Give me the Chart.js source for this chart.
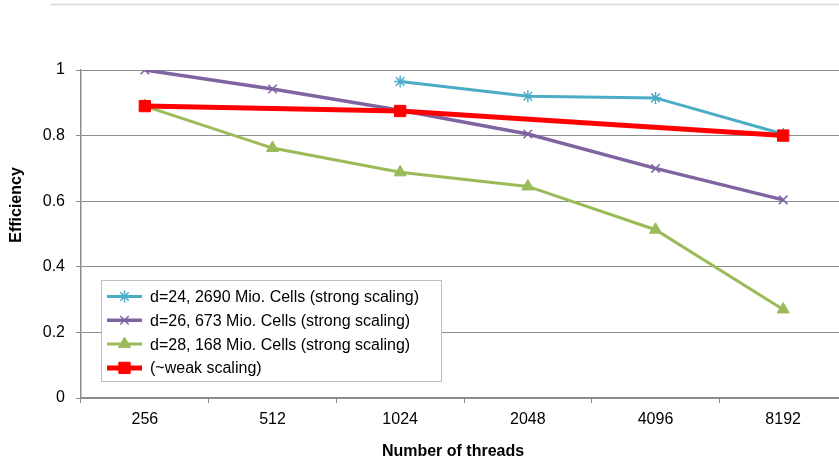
<!DOCTYPE html>
<html>
<head>
<meta charset="utf-8">
<script src="https://cdn.jsdelivr.net/npm/chart.js@4.4.1/dist/chart.umd.min.js"></script>
<style>
  html, body { margin: 0; padding: 0; background: #fff; overflow: hidden; }
  #wrap { width: 839px; height: 461px; overflow: hidden; }
  #inner { width: 880px; height: 461px; }
</style>
</head>
<body>
<div id="wrap"><div id="inner"><canvas id="effChart" width="880" height="461"></canvas></div></div>
<script>
const threads = ["256", "512", "1024", "2048", "4096", "8192"];
const d24 = [null, null, 0.965, 0.92, 0.915, 0.805];
const d26 = [1.0, 0.942, 0.877, 0.805, 0.70, 0.604];
const d28 = [0.89, 0.762, 0.688, 0.645, 0.513, 0.27];
const weak = [0.89, null, 0.875, null, null, 0.80];
const names = [
  "d=24, 2690 Mio. Cells (strong scaling)",
  "d=26, 673 Mio. Cells (strong scaling)",
  "d=28, 168 Mio. Cells (strong scaling)",
  "(~weak scaling)"
];

const FONT = "'Liberation Sans', Arial, Helvetica, sans-serif";
const GRID = "#8c8c8c";
// plot area runs a bit past the visible right edge, canvas is wider than the page
const PLOT_RIGHT = 847;

const series = [
  { label: names[0], data: d24, borderColor: "#4bacc6", borderWidth: 3,
    pointStyle: "star", pointRadius: 6, pointBorderWidth: 1.5, order: 3 },
  { label: names[1], data: d26, borderColor: "#8064a2", borderWidth: 3.5,
    pointStyle: "crossRot", pointRadius: 6, pointBorderWidth: 1.5, order: 2 },
  { label: names[2], data: d28, borderColor: "#9bbb59", borderWidth: 3,
    pointStyle: "triangle", pointRadius: 7, pointBorderWidth: 1, order: 1 },
  { label: names[3], data: weak, borderColor: "#ff0000", borderWidth: 5,
    pointStyle: "rect", pointRadius: 8, pointBorderWidth: 1, order: 0 }
];

// legend box, axis titles and the frame line
const decorations = {
  id: "decorations",
  afterDraw(chart) {
    const ctx = chart.ctx;
    ctx.save();

    ctx.strokeStyle = "#d9d9d9";
    ctx.lineWidth = 1.5;
    ctx.beginPath();
    ctx.moveTo(50, 4.5);
    ctx.lineTo(chart.width, 4.5);
    ctx.stroke();

    ctx.fillStyle = "#000";
    ctx.font = "bold 16px " + FONT;
    ctx.textAlign = "center";
    ctx.textBaseline = "middle";
    ctx.fillText("Number of threads", 453, 452);
    ctx.translate(17, 205);
    ctx.rotate(-Math.PI / 2);
    ctx.fillText("Efficiency", 0, 0);
    ctx.restore();

    ctx.save();
    const bx = 101.5, by = 280.5, bw = 340, bh = 101;
    ctx.fillStyle = "#fff";
    ctx.fillRect(bx, by, bw, bh);
    ctx.strokeStyle = "#bdbdbd";
    ctx.lineWidth = 1;
    ctx.strokeRect(bx, by, bw, bh);

    ctx.font = "16px " + FONT;
    ctx.textAlign = "left";
    ctx.textBaseline = "middle";
    series.forEach((s, i) => {
      const y = 296.5 + i * 23.8;
      ctx.strokeStyle = s.borderColor;
      ctx.fillStyle = s.borderColor;
      ctx.lineWidth = s.borderWidth;
      ctx.beginPath();
      ctx.moveTo(107, y);
      ctx.lineTo(142, y);
      ctx.stroke();
      ctx.lineWidth = s.pointBorderWidth;
      Chart.helpers.drawPoint(ctx, {
        pointStyle: s.pointStyle, radius: s.pointRadius,
        borderWidth: s.pointBorderWidth, rotation: 0
      }, 124.5, y);
      ctx.fillStyle = "#000";
      ctx.fillText(s.label, 150, y + 1);
    });
    ctx.restore();
  }
};

new Chart(document.getElementById("effChart"), {
  type: "line",
  data: {
    labels: threads,
    datasets: series.map((s) => ({
      label: s.label,
      data: s.data,
      borderColor: s.borderColor,
      backgroundColor: s.borderColor,
      borderWidth: s.borderWidth,
      pointStyle: s.pointStyle,
      pointRadius: s.pointRadius,
      pointBorderWidth: s.pointBorderWidth,
      pointBorderColor: s.borderColor,
      pointBackgroundColor: s.borderColor,
      spanGaps: true,
      tension: 0,
      order: s.order
    }))
  },
  options: {
    responsive: false,
    animation: false,
    devicePixelRatio: 1,
    layout: { padding: { top: 70, left: 0, right: 880 - PLOT_RIGHT, bottom: 0 } },
    plugins: { legend: { display: false }, tooltip: { enabled: false } },
    scales: {
      x: {
        offset: true,
        grid: { offset: true, drawOnChartArea: false, drawTicks: true, tickLength: 5, color: GRID },
        border: { color: GRID, width: 1.5 },
        ticks: { color: "#000", font: { family: FONT, size: 16 }, padding: 7 },
        afterFit: (scale) => { scale.height = 63; }
      },
      y: {
        min: 0,
        max: 1,
        ticks: {
          stepSize: 0.2, color: "#000", font: { family: FONT, size: 16 }, padding: 11,
          callback: (v) => String(Number(v.toFixed(1)))
        },
        grid: { color: GRID, lineWidth: 1, tickLength: 5 },
        border: { color: GRID, width: 1.5 },
        afterFit: (scale) => { scale.width = 81; }
      }
    }
  },
  plugins: [decorations]
});
</script>
</body>
</html>
